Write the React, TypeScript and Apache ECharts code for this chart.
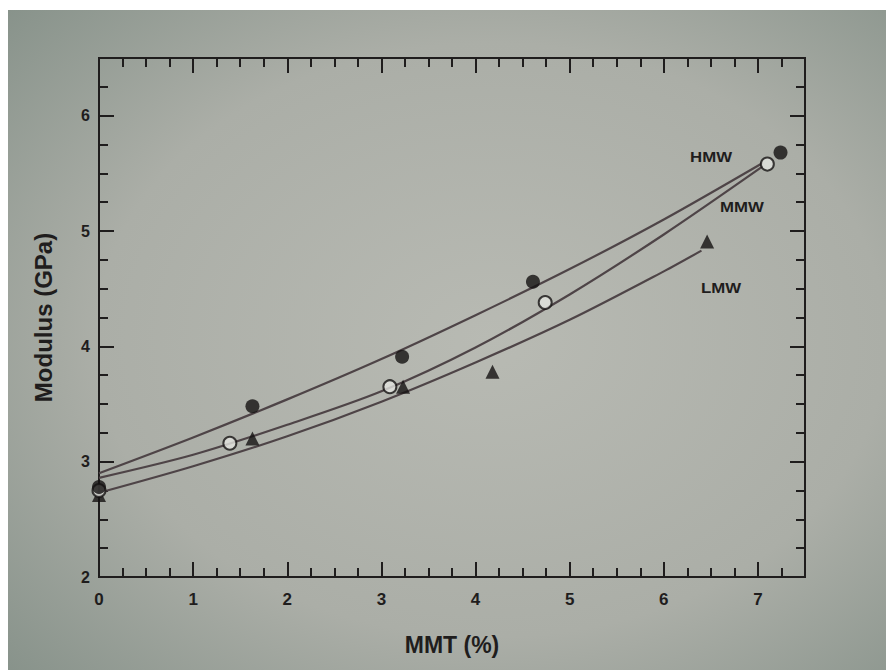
import React, { useEffect, useRef } from "react";
import * as echarts from "echarts";

// Measured data points (MMT %, Modulus GPa)
const hmwX = [0, 1.63, 3.22, 4.61, 7.24];
const hmwY = [2.78, 3.48, 3.91, 4.56, 5.68];
const mmwX = [0, 1.39, 3.09, 4.74, 7.1];
const mmwY = [2.75, 3.16, 3.65, 4.38, 5.58];
const lmwX = [0, 1.63, 3.23, 4.18, 6.46];
const lmwY = [2.71, 3.2, 3.65, 3.78, 4.91];

// Fitted curves
const hmwFitX = [0, 1, 2, 3, 4, 5, 6, 7.05];
const hmwFitY = [2.9, 3.21, 3.54, 3.89, 4.27, 4.67, 5.1, 5.59];
const mmwFitX = [0, 1, 2, 3, 4, 5, 6, 7.05];
const mmwFitY = [2.86, 3.06, 3.32, 3.61, 3.99, 4.45, 4.97, 5.56];
const lmwFitX = [0, 1, 2, 3, 4, 5, 6, 6.4];
const lmwFitY = [2.73, 2.96, 3.22, 3.52, 3.86, 4.23, 4.65, 4.83];

const seriesNames = ["HMW", "MMW", "LMW"];
const xTitle = "MMT (%)";
const yTitle = "Modulus (GPa)";
const xMin = 0, xMax = 7.5, yMin = 2, yMax = 6.5;

const zip = (xs: number[], ys: number[]) => xs.map((x, i) => [x, ys[i]]);

const INK = "#1f1d1d";
const FONT = "'Liberation Sans', Arial, sans-serif";

export default function App() {
  const ref = useRef<HTMLDivElement>(null);
  useEffect(() => {
    if (!ref.current) return;
    const chart = echarts.init(ref.current, null, { renderer: "svg" });

    const axisBase = (pos: string, isX: boolean, major: boolean, labels: boolean) => ({
      type: "value",
      position: pos,
      min: isX ? xMin : yMin,
      max: isX ? xMax : yMax,
      interval: major ? 1 : 0.25,
      axisLine: { show: true, onZero: false, lineStyle: { color: INK, width: 2 } },
      axisTick: { show: true, inside: true, length: major ? 15 : 9, lineStyle: { color: INK, width: 2 } },
      splitLine: { show: false },
      axisLabel: labels
        ? {
            show: true,
            margin: isX ? 14 : 9,
            color: INK,
            fontFamily: FONT,
            fontWeight: "bold",
            fontSize: isX ? 17 : 16,
            formatter: (v: number) => (Number.isInteger(v) ? String(v) : ""),
          }
        : { show: false },
      name: labels ? (isX ? xTitle : yTitle) : "",
      nameLocation: "middle",
      nameGap: isX ? 56 : 44,
      nameTextStyle: { color: INK, fontFamily: FONT, fontWeight: "bold", fontSize: isX ? 23 : 24 },
    });

    const lineSeries = (name: string, xs: number[], ys: number[]) => ({
      name: name + " fit",
      type: "line",
      data: zip(xs, ys),
      smooth: 0.3,
      showSymbol: false,
      lineStyle: { color: "#4e4447", width: 2.2 },
      z: 2,
    });

    const option: any = {
      animation: false,
      backgroundColor: "#ffffff",
      graphic: [
        {
          type: "rect",
          z: -10,
          silent: true,
          shape: { x: 8, y: 10, width: 878, height: 660 },
          style: {
            fill: new echarts.graphic.RadialGradient(0.55, 0.5, 0.75, [
              { offset: 0, color: "#b8bab3" },
              { offset: 0.6, color: "#abaea7" },
              { offset: 1, color: "#87928a" },
            ]),
          },
        },
        { type: "text", x: 711, y: 157, scaleX: 1.2, style: { text: seriesNames[0], fill: INK, font: `bold 14px ${FONT}`, align: "center", verticalAlign: "middle" } },
        { type: "text", x: 742, y: 207, scaleX: 1.2, style: { text: seriesNames[1], fill: INK, font: `bold 14px ${FONT}`, align: "center", verticalAlign: "middle" } },
        { type: "text", x: 721, y: 288, scaleX: 1.2, style: { text: seriesNames[2], fill: INK, font: `bold 14px ${FONT}`, align: "center", verticalAlign: "middle" } },
      ],
      grid: { left: 99, right: 81, top: 58, bottom: 93, containLabel: false },
      xAxis: [
        axisBase("bottom", true, true, true),
        axisBase("bottom", true, false, false),
        axisBase("top", true, true, false),
        axisBase("top", true, false, false),
      ],
      yAxis: [
        axisBase("left", false, true, true),
        axisBase("left", false, false, false),
        axisBase("right", false, true, false),
        axisBase("right", false, false, false),
      ],
      series: [
        lineSeries(seriesNames[0], hmwFitX, hmwFitY),
        lineSeries(seriesNames[1], mmwFitX, mmwFitY),
        lineSeries(seriesNames[2], lmwFitX, lmwFitY),
        {
          name: seriesNames[2],
          type: "scatter",
          data: zip(lmwX, lmwY),
          symbol: "triangle",
          symbolSize: 14,
          itemStyle: { color: "#141212" },
          z: 3,
        },
        {
          name: seriesNames[1],
          type: "scatter",
          data: zip(mmwX, mmwY),
          symbol: "circle",
          symbolSize: 13,
          itemStyle: { color: "#e4e5e0", borderColor: "#141212", borderWidth: 2 },
          z: 4,
        },
        {
          name: seriesNames[0],
          type: "scatter",
          data: zip(hmwX, hmwY),
          symbol: "circle",
          symbolSize: 14,
          itemStyle: { color: "#141212" },
          z: 5,
        },
      ],
    };
    chart.setOption(option);
    return () => chart.dispose();
  }, []);
  return (
    <div
      ref={ref}
      style={{ position: "absolute", left: 0, top: 0, width: 886, height: 670 }}
    />
  );
}
